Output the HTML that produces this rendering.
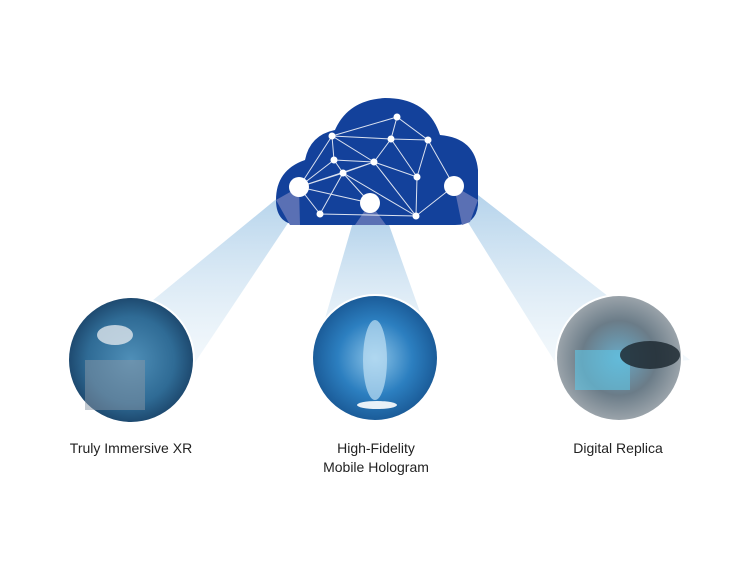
<!DOCTYPE html>
<html><head><meta charset="utf-8"><style>
html,body{margin:0;padding:0;background:#fff;}
svg{display:block}
text{font-family:"Liberation Sans",sans-serif;font-size:14px;fill:#222}
</style></head><body>
<svg width="750" height="574" viewBox="0 0 750 574" xmlns="http://www.w3.org/2000/svg">
<defs>
<linearGradient id="bm" x1="0" y1="0" x2="0" y2="1">
<stop offset="0" stop-color="#a9cce8" stop-opacity="0.85"/>
<stop offset="0.6" stop-color="#cfe3f2" stop-opacity="0.6"/>
<stop offset="1" stop-color="#e4f0f8" stop-opacity="0.4"/>
</linearGradient>
<radialGradient id="c1" cx="0.5" cy="0.5" r="0.5">
<stop offset="0" stop-color="#4f8fb8"/><stop offset="0.7" stop-color="#2f6b95"/><stop offset="1" stop-color="#1e4a70"/>
</radialGradient>
<radialGradient id="c2" cx="0.5" cy="0.5" r="0.5">
<stop offset="0" stop-color="#8cc4e8"/><stop offset="0.6" stop-color="#2c7fc0"/><stop offset="1" stop-color="#1b5c99"/>
</radialGradient>
<radialGradient id="c3" cx="0.5" cy="0.5" r="0.5">
<stop offset="0" stop-color="#6aa9c6"/><stop offset="0.6" stop-color="#6b7c88"/><stop offset="1" stop-color="#9aa3aa"/>
</radialGradient>
</defs>
<!-- beams -->
<polygon points="280,196 300,205 190,370 80,360" fill="url(#bm)"/>
<polygon points="353,222 388,222 437,360 313,360" fill="url(#bm)"/>
<polygon points="454,200 478,195 690,360 560,370" fill="url(#bm)"/>
<!-- cloud -->
<path d="M300,225 Q276,225 276,200 Q276,170 305,160 Q310,135 335,130 Q348,100 385,98 Q428,98 440,135 Q475,138 478,170 Q478,200 478,205 Q476,225 455,225 Z" fill="#13419b"/>
<polygon points="276,200 299,187 300,225 290,225" fill="#5a70b4"/>
<polygon points="370,203 355,225 386,225" fill="#5a70b4"/>
<polygon points="454,186 478,200 470,222 462,225" fill="#5a70b4"/>
<g stroke="#fff" stroke-width="1" fill="none" opacity="0.85">
<path d="M397,117 L332,136 L391,139 L428,140 L397,117 L391,139 L374,162 L332,136 L334,160 L374,162 L343,173 L334,160 M332,136 L299,187 L334,160 M343,173 L299,187 L320,214 L343,173 L416,216 L374,162 L417,177 L428,140 L454,186 L416,216 L417,177 L391,139 M374,162 L416,216 L320,214 M343,173 L370,203 M299,187 L370,203 M428,140 L417,177 M374,162 L299,187"/>
</g>
<g fill="#fff">
<circle cx="299" cy="187" r="10"/><circle cx="370" cy="203" r="10"/><circle cx="454" cy="186" r="10"/>
<circle cx="397" cy="117" r="3.5"/><circle cx="332" cy="136" r="3.5"/><circle cx="391" cy="139" r="3.5"/><circle cx="428" cy="140" r="3.5"/><circle cx="334" cy="160" r="3.5"/><circle cx="374" cy="162" r="3.5"/><circle cx="343" cy="173" r="3.5"/><circle cx="417" cy="177" r="3.5"/><circle cx="320" cy="214" r="3.5"/><circle cx="416" cy="216" r="3.5"/>
</g>
<!-- photo circles -->
<circle cx="131" cy="360" r="64" fill="#fff"/><circle cx="131" cy="360" r="62" fill="url(#c1)"/>
<ellipse cx="115" cy="335" rx="18" ry="10" fill="#dfe6ec" opacity="0.8"/>
<rect x="85" y="360" width="60" height="50" fill="#8a98a6" opacity="0.5"/>
<circle cx="375" cy="358" r="64" fill="#fff"/><circle cx="375" cy="358" r="62" fill="url(#c2)"/>
<ellipse cx="375" cy="360" rx="12" ry="40" fill="#bfe0f4" opacity="0.7"/>
<ellipse cx="377" cy="405" rx="20" ry="4" fill="#fff" opacity="0.9"/>
<circle cx="619" cy="358" r="64" fill="#fff"/><circle cx="619" cy="358" r="62" fill="url(#c3)"/>
<rect x="575" y="350" width="55" height="40" fill="#5fc6e6" opacity="0.6"/>
<ellipse cx="650" cy="355" rx="30" ry="14" fill="#1f2a33" opacity="0.85"/>
<text x="131" y="453" text-anchor="middle">Truly Immersive XR</text>
<text x="376" y="453" text-anchor="middle">High-Fidelity</text>
<text x="376" y="472" text-anchor="middle">Mobile Hologram</text>
<text x="618" y="453" text-anchor="middle">Digital Replica</text>
</svg>
</body></html>
